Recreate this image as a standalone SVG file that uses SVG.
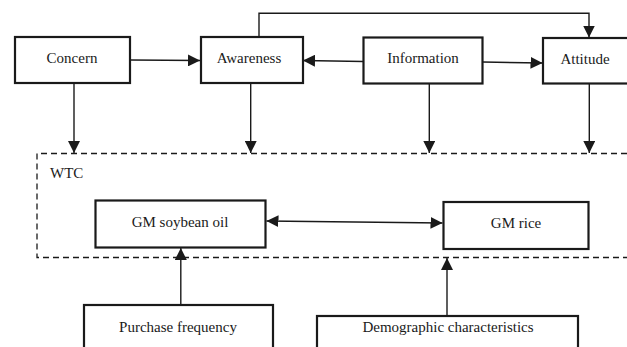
<svg xmlns="http://www.w3.org/2000/svg" width="627" height="347" viewBox="0 0 627 347">
<style>
.box{fill:#fff;stroke:#1a1a1a;stroke-width:2.2}
.t{font-family:"Liberation Serif","Times New Roman",serif;font-size:15px;fill:#1a1a1a;text-anchor:middle}
.c{fill:none;stroke:#1a1a1a;stroke-width:1.4}
.d{fill:none;stroke:#1a1a1a;stroke-width:1.3;stroke-dasharray:6 4}
</style>
<defs>
<marker id="ah" viewBox="0 0 12 12" refX="12" refY="6" markerWidth="12" markerHeight="12" markerUnits="userSpaceOnUse" orient="auto-start-reverse">
<path d="M0,0 L12,6 L0,12 Z" fill="#1a1a1a"/>
</marker>
</defs>
<rect width="627" height="347" fill="#fff"/>
<g id="wtc">
<path class="d" d="M627,153.5 H37 V257.5 H627"/>
<text class="t" x="37" y="178" style="text-anchor:start" dx="13">WTC</text>
</g>
<g id="concern"><rect class="box" x="15" y="37" width="115" height="46"/><text class="t" x="72" y="63">Concern</text></g>
<g id="awareness"><rect class="box" x="201" y="37" width="102" height="46"/><text class="t" x="249" y="63">Awareness</text></g>
<g id="information"><rect class="box" x="363.5" y="37.5" width="119" height="46"/><text class="t" x="423" y="63">Information</text></g>
<g id="attitude"><rect class="box" x="543" y="38" width="100" height="45.5"/><text class="t" x="585" y="64">Attitude</text></g>
<g id="soybean"><rect class="box" x="95.5" y="200.5" width="170" height="47"/><text class="t" x="180" y="227">GM soybean oil</text></g>
<g id="rice"><rect class="box" x="443.5" y="202" width="145" height="47"/><text class="t" x="516" y="228">GM rice</text></g>
<g id="purchase"><rect class="box" x="84" y="305" width="189" height="60"/><text class="t" x="178" y="332">Purchase frequency</text></g>
<g id="demographic"><rect class="box" x="317" y="316" width="261" height="60"/><text class="t" x="448" y="332">Demographic characteristics</text></g>
<g id="connectors">
<path class="c" d="M130,60 L200,60.5" marker-end="url(#ah)"/>
<path class="c" d="M363.5,61.5 L303,60.5" marker-end="url(#ah)"/>
<path class="c" d="M482.5,62 L542.5,63" marker-end="url(#ah)"/>
<path class="c" d="M259,37 V13.3 H589 V37.5" marker-end="url(#ah)"/>
<path class="c" d="M74,83 V153" marker-end="url(#ah)"/>
<path class="c" d="M250.7,83 V153" marker-end="url(#ah)"/>
<path class="c" d="M429.3,83.5 V153" marker-end="url(#ah)"/>
<path class="c" d="M589.3,83.5 V153" marker-end="url(#ah)"/>
<path class="c" d="M266.5,221 L442.5,223" marker-start="url(#ah)" marker-end="url(#ah)"/>
<path class="c" d="M180.8,305 V248" marker-end="url(#ah)"/>
<path class="c" d="M447,315.5 V258" marker-end="url(#ah)"/>
</g>
</svg>
